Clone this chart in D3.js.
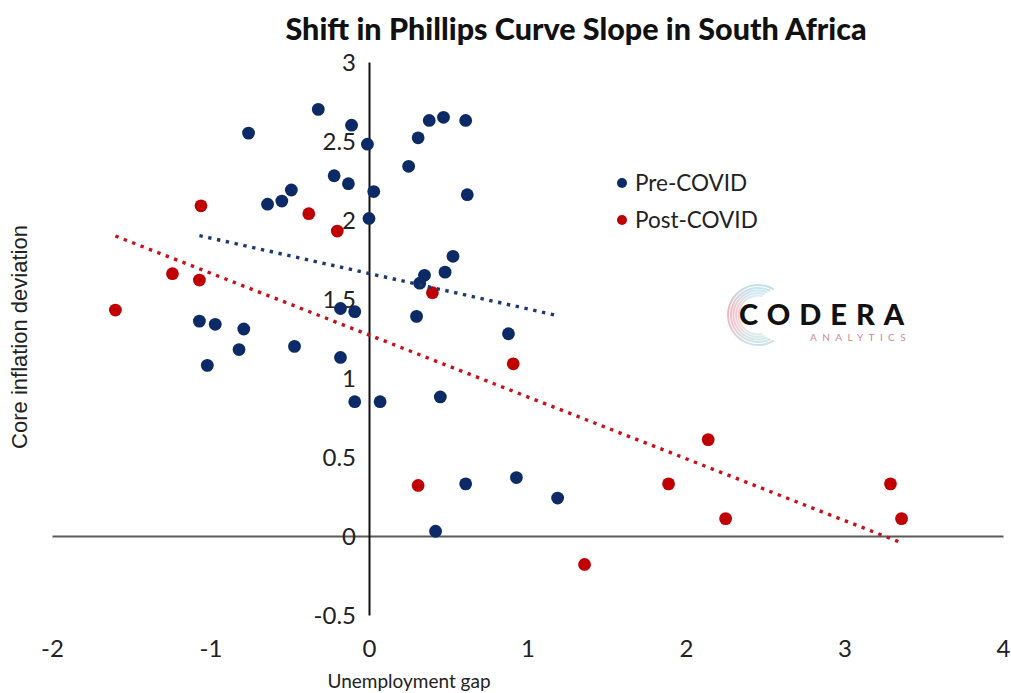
<!DOCTYPE html>
<html>
<head>
<meta charset="utf-8">
<script src="https://cdn.jsdelivr.net/npm/d3@7/dist/d3.min.js"></script>
<style>
  html, body { margin: 0; padding: 0; background: #fff; }
  svg { display: block; }
</style>
</head>
<body>
<svg id="chart" width="1011" height="693"></svg>
<script>
// Unemployment gap (x) and core inflation deviation (y), pre-COVID quarters
const preX = [-0.32, -0.11, -0.01, -0.76, -0.22, -0.13, 0.03, -0.64, -0.55, -0.49,
              0.00, 0.25, 0.31, 0.38, 0.47, 0.61, 0.62, 0.53, 0.48, 0.35,
              0.32, 0.30, 0.88, -0.18, -0.09, -1.07, -0.97, -0.79, -0.82, -0.47,
              -1.02, -0.18, 0.45, -0.09, 0.07, 0.42, 0.61, 0.93, 1.19];
const preY = [2.70, 2.60, 2.48, 2.55, 2.28, 2.23, 2.18, 2.10, 2.12, 2.19,
              2.01, 2.34, 2.52, 2.63, 2.65, 2.63, 2.16, 1.77, 1.67, 1.65,
              1.60, 1.39, 1.28, 1.44, 1.42, 1.36, 1.34, 1.31, 1.18, 1.20,
              1.08, 1.13, 0.88, 0.85, 0.85, 0.03, 0.33, 0.37, 0.24];

// Post-COVID quarters
const postX = [-1.06, -0.38, -0.20, -1.24, -1.07, -1.60, 0.40, 0.91, 0.31, 1.36,
               1.89, 2.14, 2.25, 3.29, 3.36];
const postY = [2.09, 2.04, 1.93, 1.66, 1.62, 1.43, 1.54, 1.09, 0.32, -0.18,
               0.33, 0.61, 0.11, 0.33, 0.11];

const xTicks = [-2, -1, 0, 1, 2, 3, 4];
const yTicks = [-0.5, 0, 0.5, 1, 1.5, 2, 2.5, 3];
const seriesNames = ["Pre-COVID", "Post-COVID"];

const svg = d3.select("#chart");
const navy = "#0b2a66";
const red = "#c00000";
const numFont = "Lato, 'Open Sans', sans-serif";

const x = d3.scaleLinear().domain([-2, 4]).range([52, 1003]);
const y = d3.scaleLinear().domain([-0.5, 3]).range([615, 62]);

// Title
svg.append("text")
  .attr("x", 576).attr("y", 40)
  .attr("text-anchor", "middle")
  .attr("font-family", numFont)
  .attr("font-weight", 900)
  .attr("font-size", 30.5)
  .attr("fill", "#111")
  .text("Shift in Phillips Curve Slope in South Africa");

// Horizontal axis crossing at y = 0
const xAxis = d3.axisBottom(x).tickValues(xTicks).tickSize(0).tickFormat(d => String(d));
const gx = svg.append("g").attr("transform", `translate(0,${y(0)})`).call(xAxis);
gx.select(".domain").attr("stroke", "#5a5a5a").attr("stroke-width", 2.2);
gx.selectAll("text")
  .attr("dy", 0)
  .attr("y", 657 - y(0))
  .attr("font-family", numFont)
  .attr("font-size", 24)
  .attr("fill", "#222");

// Vertical axis crossing at x = 0
const yAxis = d3.axisLeft(y).tickValues(yTicks).tickSize(0).tickFormat(d => String(d));
const gy = svg.append("g").attr("transform", `translate(${x(0)},0)`).call(yAxis);
gy.select(".domain").attr("stroke", "#111").attr("stroke-width", 2);
gy.selectAll("text")
  .attr("x", -13)
  .attr("dy", "0.36em")
  .attr("font-family", numFont)
  .attr("font-size", 24)
  .attr("fill", "#222");

// Axis titles
svg.append("text")
  .attr("transform", `translate(27,337) rotate(-90)`)
  .attr("text-anchor", "middle")
  .attr("font-family", "'Liberation Sans', Arial, sans-serif")
  .attr("font-size", 22)
  .attr("fill", "#222")
  .text("Core inflation deviation");

svg.append("text")
  .attr("x", 409).attr("y", 688)
  .attr("text-anchor", "middle")
  .attr("font-family", numFont)
  .attr("font-size", 19)
  .attr("fill", "#222")
  .text("Unemployment gap");

// Least-squares trend line over the span of the series
function trend(xs, ys) {
  const n = xs.length;
  const mx = d3.mean(xs), my = d3.mean(ys);
  let sxy = 0, sxx = 0;
  for (let i = 0; i < n; i++) {
    sxy += (xs[i] - mx) * (ys[i] - my);
    sxx += (xs[i] - mx) * (xs[i] - mx);
  }
  const b = sxy / sxx, a = my - b * mx;
  const x0 = d3.min(xs), x1 = d3.max(xs);
  return [[x0, a + b * x0], [x1, a + b * x1]];
}

const line = d3.line().x(d => x(d[0])).y(d => y(d[1]));

const series = [
  { name: seriesNames[0], xs: preX, ys: preY, color: navy, trendColor: "#1d3a70" },
  { name: seriesNames[1], xs: postX, ys: postY, color: red, trendColor: "#c8101a" }
];

// Points
series.forEach(s => {
  svg.append("g").selectAll("circle")
    .data(s.xs.map((v, i) => [v, s.ys[i]]))
    .join("circle")
    .attr("cx", d => x(d[0]))
    .attr("cy", d => y(d[1]))
    .attr("r", 6.4)
    .attr("fill", s.color);
});

// Trend lines
series.forEach(s => {
  svg.append("path")
    .attr("d", line(trend(s.xs, s.ys)))
    .attr("fill", "none")
    .attr("stroke", s.trendColor)
    .attr("stroke-width", 3.4)
    .attr("stroke-dasharray", "3.4,5.6");
});

// Legend
const legend = svg.append("g");
series.forEach((s, i) => {
  const ly = 183 + i * 37;
  legend.append("circle").attr("cx", 622).attr("cy", ly).attr("r", 5).attr("fill", s.color);
  legend.append("text")
    .attr("x", 635).attr("y", ly)
    .attr("dy", "0.35em")
    .attr("font-family", numFont)
    .attr("font-size", 22.5)
    .attr("fill", "#222")
    .text(s.name);
});

// Company mark: open swirl ring behind the wordmark
const defs = svg.append("defs");
const grad = defs.append("linearGradient").attr("id", "swirl")
  .attr("x1", "0").attr("y1", "0").attr("x2", "0").attr("y2", "1");
grad.append("stop").attr("offset", "0%").attr("stop-color", "#86cde3");
grad.append("stop").attr("offset", "40%").attr("stop-color", "#e1788e");
grad.append("stop").attr("offset", "70%").attr("stop-color", "#e58da0");
grad.append("stop").attr("offset", "100%").attr("stop-color", "#96d3da");

const ring = svg.append("g").attr("transform", "translate(758,315)");
const arc = d3.arc();
[30, 27, 24.5, 22, 19.5].forEach((r, i) => {
  ring.append("path")
    .attr("d", arc({ innerRadius: r - 1, outerRadius: r + 1,
                     startAngle: Math.PI - 0.55 + i * 0.08,
                     endAngle: 2 * Math.PI + 0.55 - i * 0.08 }))
    .attr("fill", "url(#swirl)")
    .attr("opacity", 0.55 - i * 0.05);
});

svg.append("text")
  .attr("x", 739).attr("y", 325)
  .attr("font-family", numFont)
  .attr("font-weight", 900)
  .attr("font-size", 29)
  .attr("letter-spacing", 9)
  .attr("fill", "#111")
  .text("CODERA");
svg.append("text")
  .attr("x", 810).attr("y", 341)
  .attr("font-family", numFont)
  .attr("font-size", 10)
  .attr("letter-spacing", 5.4)
  .attr("fill", "#c98a9a")
  .text("ANALYTICS");
</script>
</body>
</html>
